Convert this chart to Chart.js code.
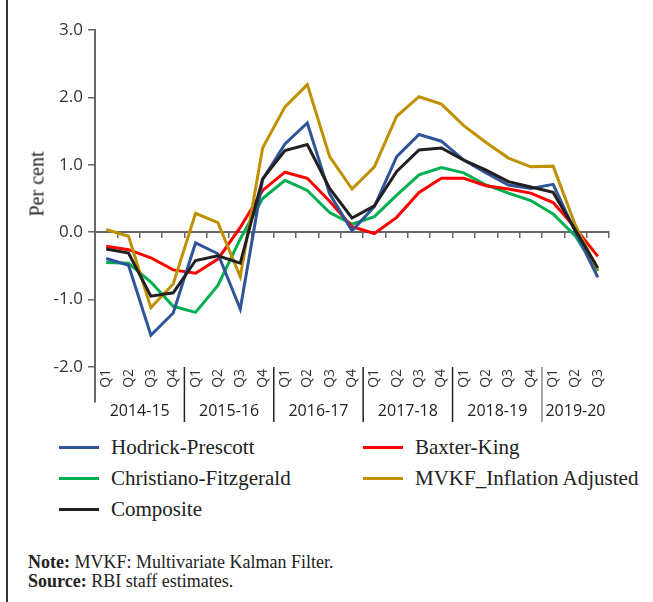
<!DOCTYPE html>
<html>
<head>
<meta charset="utf-8">
<script src="https://cdn.jsdelivr.net/npm/chart.js@4/dist/chart.umd.min.js"></script>
<style>
  html, body { margin: 0; padding: 0; background: #fff; }
  #page { position: relative; width: 653px; height: 602px; overflow: hidden; background: #fff; }
  #frame { position: absolute; left: 6px; top: 0; width: 1.5px; height: 602px; background: #333; }
  #plot { position: absolute; left: 0; top: 0; width: 653px; height: 430px; }
  #ytitle {
    position: absolute; left: 37px; top: 184px;
    transform: translate(-50%, -50%) rotate(-90deg);
    font-family: 'Liberation Serif', serif; font-size: 20px; color: #222; white-space: nowrap;
  }
  .leg { position: absolute; height: 24px; display: flex; align-items: center;
         font-family: 'Liberation Serif', serif; font-size: 21px; color: #222; white-space: nowrap; }
  .leg .sw { width: 40px; height: 3px; margin-right: 12px; }
  .note { position: absolute; left: 28px; font-family: 'Liberation Serif', serif; font-size: 18px; color: #222; white-space: nowrap; }
</style>
</head>
<body>
<div id="page">
  <div id="frame"></div>
  <div id="plot"><canvas id="chart"></canvas></div>
  <div id="ytitle">Per cent</div>
  <div id="legend"></div>
  <div class="note" style="top:552px"><b>Note:</b> MVKF: Multivariate Kalman Filter.</div>
  <div class="note" style="top:571px"><b>Source:</b> RBI staff estimates.</div>
</div>
<script>
// Fiscal years and their quarters (2019-20 runs to Q3 only)
const fiscalYears = ['2014-15', '2015-16', '2016-17', '2017-18', '2018-19', '2019-20'];
const quartersPerYear = [4, 4, 4, 4, 4, 3];
const quarterLabels = [
  'Q1','Q2','Q3','Q4', 'Q1','Q2','Q3','Q4', 'Q1','Q2','Q3','Q4',
  'Q1','Q2','Q3','Q4', 'Q1','Q2','Q3','Q4', 'Q1','Q2','Q3'
];
const yTicks = [-2, -1, 0, 1, 2, 3];

// Output gap estimates, per cent
const hodrickPrescott = [-0.39, -0.49, -1.53, -1.20, -0.16, -0.32, -1.14, 0.78, 1.31, 1.62, 0.57, 0.02,
                         0.38, 1.12, 1.45, 1.35, 1.07, 0.88, 0.70, 0.65, 0.71, 0.00, -0.67];
const baxterKing = [-0.21, -0.26, -0.38, -0.56, -0.61, -0.40, 0.07, 0.62, 0.89, 0.80, 0.46, 0.08,
                    -0.02, 0.22, 0.59, 0.80, 0.80, 0.69, 0.64, 0.58, 0.44, 0.06, -0.36];
const christianoFitzgerald = [-0.45, -0.46, -0.74, -1.10, -1.19, -0.79, -0.10, 0.50, 0.77, 0.62, 0.29, 0.12,
                              0.23, 0.55, 0.85, 0.96, 0.88, 0.70, 0.58, 0.47, 0.27, -0.06, -0.58];
const mvkfInflationAdjusted = [0.04, -0.06, -1.12, -0.77, 0.28, 0.14, -0.66, 1.25, 1.86, 2.19, 1.12, 0.64,
                               0.97, 1.72, 2.01, 1.90, 1.58, 1.33, 1.10, 0.97, 0.98, 0.10, -0.56];
const composite = [-0.25, -0.31, -0.95, -0.90, -0.42, -0.35, -0.46, 0.79, 1.21, 1.30, 0.65, 0.21,
                   0.39, 0.90, 1.22, 1.25, 1.07, 0.92, 0.75, 0.67, 0.59, 0.03, -0.53];

// Category keys: fiscal year + quarter
const categories = [];
fiscalYears.forEach((fy, k) => {
  for (let q = 0; q < quartersPerYear[k]; q++) categories.push(fy + ' Q' + (q + 1));
});

const AXIS = '#666';
const SANS = "'Open Sans', sans-serif";

// Fiscal-year captions and separators beneath the quarter labels
const yearBands = {
  id: 'yearBands',
  afterDraw(chart) {
    const x = chart.scales.x, y = chart.scales.y, ctx = chart.ctx;
    const step = x.getPixelForValue(1) - x.getPixelForValue(0);
    const top = y.getPixelForValue(-2);
    const bottom = chart.chartArea.bottom + 20;
    ctx.save();
    ctx.font = '16px ' + SANS;
    ctx.fillStyle = '#222';
    ctx.textAlign = 'center';
    ctx.textBaseline = 'middle';
    let start = 0;
    fiscalYears.forEach((fy, k) => {
      const n = quartersPerYear[k];
      const left = x.getPixelForValue(start) - step / 2;
      if (k > 0) {
        ctx.strokeStyle = k === fiscalYears.length - 1 ? '#8a8a8a' : '#222';
        ctx.lineWidth = 1.5;
        ctx.beginPath();
        ctx.moveTo(left, top);
        ctx.lineTo(left, bottom);
        ctx.stroke();
      }
      const mid = (x.getPixelForValue(start) + x.getPixelForValue(start + n - 1)) / 2;
      ctx.fillText(fy, mid, chart.chartArea.bottom + 9);
      start += n;
    });
    ctx.restore();
  }
};

const series = [
  { label: 'Hodrick-Prescott', data: hodrickPrescott, color: '#2F5597', order: 3 },
  { label: 'Baxter-King', data: baxterKing, color: '#FF0000', order: 4 },
  { label: 'Christiano-Fitzgerald', data: christianoFitzgerald, color: '#00B050', order: 5 },
  { label: 'MVKF_Inflation Adjusted', data: mvkfInflationAdjusted, color: '#BF9000', order: 2 },
  { label: 'Composite', data: composite, color: '#231F20', order: 1 }
];

const chart = new Chart(document.getElementById('chart'), {
  type: 'line',
  data: {
    labels: categories,
    datasets: series.map(s => ({
      label: s.label, data: s.data, order: s.order,
      borderColor: s.color, backgroundColor: s.color,
      borderWidth: 3, pointRadius: 0, tension: 0, fill: false
    }))
  },
  options: {
    responsive: true,
    maintainAspectRatio: false,
    animation: false,
    layout: { padding: { top: 30, right: 44, bottom: 28, left: 0 } },
    plugins: { legend: { display: false }, tooltip: { enabled: false } },
    scales: {
      x: {
        type: 'category',
        position: { y: 0 },
        offset: true,
        grid: { display: true, drawOnChartArea: false, drawTicks: true, tickLength: 5, offset: true, color: AXIS, lineWidth: 1.5 },
        border: { display: true, color: AXIS, width: 2 },
        ticks: { display: false }
      },
      x2: {
        type: 'category',
        labels: quarterLabels,
        position: { y: -2 },
        offset: true,
        grid: { display: false, drawTicks: false },
        border: { display: false },
        ticks: { autoSkip: false, minRotation: 90, maxRotation: 90, padding: 2,
                 font: { family: SANS, size: 14 }, color: '#333' }
      },
      y: {
        min: -2.52,
        max: 3.0,
        afterBuildTicks: s => { s.ticks = yTicks.map(v => ({ value: v })); },
        afterFit: s => { s.width = 95; },
        grid: { drawOnChartArea: false, drawTicks: true, tickLength: 7, color: AXIS, lineWidth: 1.5 },
        border: { display: true, color: AXIS, width: 2 },
        ticks: { callback: v => Number(v).toFixed(1), padding: 5,
                 font: { family: SANS, size: 17 }, color: '#333' }
      }
    }
  },
  plugins: [yearBands]
});

// Two-column legend built from the chart's own legend items
const slots = [
  { left: 59, top: 435 }, { left: 363, top: 435 },
  { left: 59, top: 466 }, { left: 363, top: 466 },
  { left: 59, top: 497 }
];
const legendHost = document.getElementById('legend');
chart.options.plugins.legend.labels.generateLabels(chart)
  .sort((a, b) => a.datasetIndex - b.datasetIndex)
  .forEach((item, i) => {
    const el = document.createElement('div');
    el.className = 'leg';
    el.style.left = slots[i].left + 'px';
    el.style.top = slots[i].top + 'px';
    const sw = document.createElement('span');
    sw.className = 'sw';
    sw.style.background = item.strokeStyle;
    el.appendChild(sw);
    el.appendChild(document.createTextNode(item.text));
    legendHost.appendChild(el);
  });
</script>
</body>
</html>
